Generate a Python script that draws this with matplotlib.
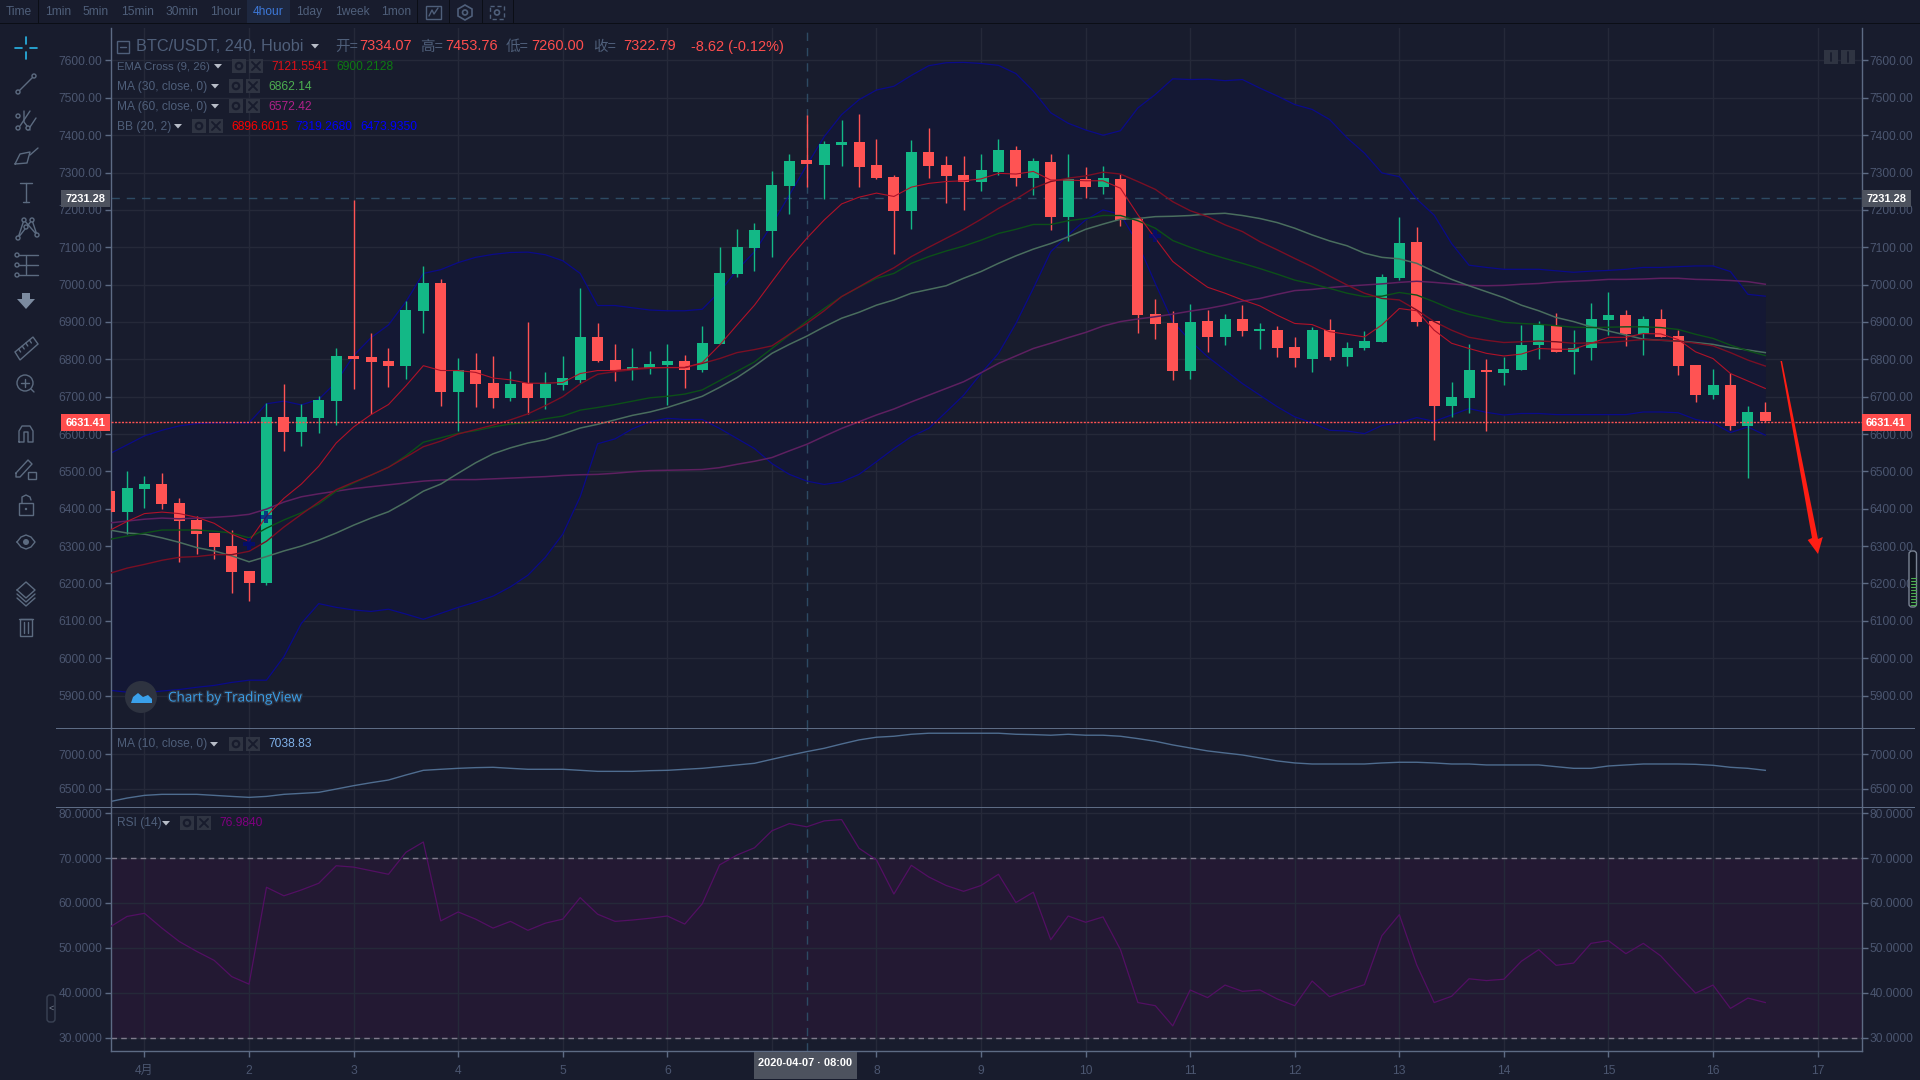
import numpy as np
import matplotlib
matplotlib.use('Agg')
import matplotlib.pyplot as plt
from matplotlib.patches import Rectangle, Circle, FancyBboxPatch, Polygon
import matplotlib.patheffects as pe

plt.rcParams['font.family'] = ['Liberation Sans', 'Noto Sans CJK SC', 'DejaVu Sans']

# DATOS: velas de 4 horas BTC/USDT, desde la vela k=-2 hasta k=93 (6 por dia)
open_ = [6447, 6391, 6454, 6466, 6415, 6369, 6335, 6300, 6232, 6202, 6645, 6605, 6643, 6688, 6808, 6806,
         6795, 6782, 6929, 7005, 6712, 6771, 6737, 6697, 6737, 6697, 6731, 6744, 6859, 6798, 6771, 6777,
         6785, 6796, 6771, 6841, 7029, 7098, 7144, 7264, 7334.07, 7321, 7374, 7382, 7321, 7288, 7197, 7355,
         7321, 7294, 7275, 7302, 7361, 7286, 7329, 7181, 7283, 7262, 7283, 7176, 6921, 6897, 6769, 6903,
         6860, 6908, 6876, 6879, 6833, 6801, 6879, 6807, 6829, 6847, 7018, 7114, 6903, 6675, 6697, 6772,
         6764, 6772, 6838, 6890, 6820, 6829, 6906, 6919, 6868, 6908, 6863, 6785, 6704, 6731, 6622, 6659]
high = [6447, 6502, 6487, 6497, 6429, 6380, 6335, 6342, 6232, 6683, 6734, 6680, 6701, 6831, 7226, 6871,
        6831, 6956, 7050, 7015, 6804, 6817, 6808, 6768, 6901, 6765, 6808, 6992, 6897, 6841, 6831, 6822,
        6841, 6812, 6889, 7101, 7149, 7165, 7305, 7350, 7453.76, 7385, 7441, 7457, 7390, 7294, 7387, 7420,
        7345, 7345, 7350, 7390, 7371, 7339, 7350, 7350, 7315, 7318, 7296, 7176, 6962, 6929, 6948, 6932,
        6921, 6945, 6897, 6889, 6860, 6887, 6908, 6847, 6876, 7029, 7180, 7154, 6903, 6739, 6841, 6801,
        6807, 6893, 6903, 6925, 6879, 6951, 6980, 6932, 6916, 6935, 6879, 6785, 6774, 6763, 6675, 6686]
low = [6391, 6333, 6403, 6399, 6258, 6280, 6265, 6174, 6153, 6196, 6554, 6567, 6603, 6625, 6720, 6653,
       6725, 6747, 6871, 6675, 6607, 6672, 6670, 6688, 6653, 6667, 6718, 6737, 6792, 6742, 6744, 6761,
       6678, 6723, 6766, 6841, 7021, 7037, 7074, 7189, 7260, 7229, 7318, 7262, 7283, 7082, 7149, 7286,
       7219, 7200, 7251, 7294, 7264, 7240, 7146, 7117, 7232, 7243, 7157, 6871, 6854, 6745, 6747, 6820,
       6839, 6862, 6827, 6806, 6779, 6765, 6799, 6783, 6826, 6847, 7013, 6889, 6584, 6645, 6657, 6609,
       6732, 6772, 6801, 6820, 6761, 6799, 6865, 6836, 6811, 6860, 6758, 6685, 6694, 6611, 6483, 6632]
close = [6391, 6456, 6466, 6413, 6367, 6333, 6298, 6230, 6202, 6645, 6605, 6645, 6691, 6808, 6801, 6792,
         6782, 6932, 7005, 6712, 6771, 6734, 6697, 6734, 6697, 6734, 6750, 6859, 6795, 6771, 6779, 6788,
         6796, 6771, 6844, 7031, 7101, 7146, 7267, 7331, 7322.79, 7377, 7382, 7315, 7286, 7197, 7355, 7318,
         7291, 7276, 7307, 7361, 7286, 7331, 7181, 7283, 7262, 7286, 7173, 6919, 6895, 6769, 6900, 6860,
         6908, 6876, 6881, 6831, 6804, 6879, 6807, 6831, 6850, 7021, 7111, 6900, 6675, 6699, 6772, 6766,
         6775, 6839, 6893, 6820, 6831, 6908, 6919, 6868, 6908, 6860, 6782, 6704, 6731, 6622, 6659, 6635]

ema9 = [6342, 6366, 6387, 6391, 6387, 6377, 6361, 6332, 6313, 6380, 6428, 6466, 6514, 6576, 6619, 6652,
        6679, 6729, 6783, 6770, 6770, 6765, 6750, 6745, 6736, 6736, 6738, 6762, 6770, 6770, 6775, 6778,
        6778, 6778, 6791, 6838, 6892, 6945, 7008, 7070, 7124, 7173, 7216, 7234, 7245, 7236, 7261, 7271,
        7276, 7278, 7283, 7298, 7296, 7303, 7280, 7280, 7278, 7278, 7258, 7187, 7124, 7062, 7026, 6993,
        6977, 6959, 6943, 6918, 6896, 6893, 6874, 6867, 6860, 6892, 6936, 6930, 6878, 6843, 6829, 6816,
        6809, 6814, 6829, 6827, 6827, 6843, 6859, 6859, 6869, 6868, 6853, 6820, 6802, 6762, 6742, 6722]
ema26 = [6318, 6327, 6335, 6343, 6343, 6343, 6340, 6335, 6322, 6348, 6370, 6389, 6413, 6447, 6469, 6490,
         6511, 6542, 6578, 6590, 6602, 6609, 6619, 6627, 6631, 6641, 6648, 6664, 6671, 6679, 6688, 6697,
         6701, 6707, 6718, 6743, 6768, 6793, 6829, 6865, 6902, 6936, 6968, 6993, 7017, 7030, 7057, 7075,
         7090, 7103, 7119, 7137, 7148, 7161, 7161, 7171, 7177, 7185, 7185, 7171, 7151, 7118, 7100, 7084,
         7070, 7057, 7043, 7028, 7012, 7002, 6990, 6977, 6968, 6969, 6979, 6972, 6954, 6934, 6920, 6910,
         6899, 6896, 6894, 6890, 6886, 6885, 6886, 6887, 6887, 6885, 6880, 6867, 6856, 6838, 6823, 6810]
ma30 = [6343, 6335, 6332, 6322, 6310, 6296, 6287, 6274, 6258, 6272, 6287, 6300, 6316, 6335, 6356, 6375,
        6392, 6418, 6447, 6466, 6495, 6523, 6547, 6563, 6576, 6585, 6600, 6616, 6626, 6638, 6650, 6659,
        6671, 6686, 6701, 6725, 6751, 6782, 6816, 6840, 6862, 6887, 6910, 6926, 6945, 6959, 6977, 6987,
        6997, 7017, 7035, 7057, 7077, 7095, 7110, 7128, 7148, 7162, 7175, 7177, 7182, 7183, 7185, 7189,
        7191, 7185, 7177, 7166, 7151, 7133, 7117, 7104, 7084, 7073, 7069, 7057, 7035, 7014, 6997, 6981,
        6965, 6945, 6930, 6912, 6901, 6887, 6876, 6865, 6854, 6851, 6849, 6845, 6840, 6831, 6825, 6818]
ma60 = [6362, 6367, 6372, 6375, 6373, 6375, 6377, 6380, 6385, 6399, 6418, 6432, 6440, 6447, 6454, 6459,
        6464, 6469, 6474, 6477, 6478, 6478, 6480, 6482, 6484, 6486, 6489, 6491, 6492, 6495, 6499, 6502,
        6503, 6504, 6505, 6510, 6519, 6527, 6537, 6555, 6572.42, 6594, 6615, 6633, 6651, 6667, 6686, 6704,
        6722, 6740, 6764, 6789, 6809, 6829, 6843, 6858, 6872, 6889, 6901, 6908, 6914, 6921, 6929, 6936,
        6945, 6956, 6963, 6974, 6984, 6987, 6992, 6996, 6999, 7002, 7006, 7009, 7006, 7002, 6998, 6997,
        6998, 7001, 7003, 7007, 7009, 7011, 7014, 7014, 7015, 7017, 7017, 7014, 7013, 7011, 7008, 7001]
bb_basis = [6227, 6241, 6251, 6262, 6270, 6272, 6277, 6277, 6286, 6313, 6351, 6385, 6418, 6451, 6471, 6490,
            6511, 6538, 6566, 6581, 6600, 6612, 6624, 6638, 6654, 6676, 6700, 6734, 6760, 6767, 6772, 6776,
            6778, 6778, 6789, 6802, 6818, 6826, 6836, 6867, 6896, 6930, 6968, 6994, 7021, 7045, 7075, 7100,
            7124, 7148, 7175, 7204, 7229, 7258, 7276, 7285, 7291, 7301, 7296, 7276, 7255, 7222, 7198, 7182,
            7160, 7142, 7115, 7093, 7070, 7048, 7023, 6999, 6977, 6963, 6959, 6932, 6901, 6878, 6859, 6851,
            6845, 6847, 6849, 6847, 6843, 6844, 6845, 6849, 6853, 6851, 6849, 6843, 6836, 6818, 6798, 6782]
bb_upper = [6547, 6571, 6595, 6610, 6622, 6628, 6630, 6630, 6630, 6681, 6688, 6678, 6693, 6739, 6810, 6858,
            6892, 6954, 7030, 7040, 7059, 7073, 7081, 7086, 7087, 7080, 7064, 7030, 6944, 6944, 6938, 6932,
            6930, 6930, 6934, 6981, 7039, 7088, 7160, 7240, 7319, 7396, 7455, 7495, 7521, 7531, 7560, 7586,
            7594, 7595, 7592, 7587, 7565, 7518, 7460, 7432, 7414, 7400, 7412, 7473, 7509, 7551, 7549, 7550,
            7546, 7549, 7526, 7505, 7482, 7469, 7442, 7393, 7352, 7299, 7289, 7229, 7186, 7110, 7052, 7046,
            7041, 7041, 7041, 7037, 7033, 7036, 7038, 7041, 7046, 7046, 7048, 7050, 7050, 7035, 6974, 6969]
bb_lower = [5914, 5909, 5907, 5912, 5916, 5922, 5927, 5935, 5941, 5941, 6004, 6093, 6146, 6136, 6129, 6125,
            6131, 6118, 6104, 6120, 6136, 6150, 6166, 6191, 6222, 6270, 6332, 6432, 6574, 6587, 6614, 6633,
            6642, 6639, 6639, 6615, 6588, 6561, 6521, 6492, 6474, 6465, 6472, 6492, 6526, 6561, 6593, 6615,
            6659, 6704, 6762, 6816, 6896, 6990, 7088, 7133, 7173, 7200, 7188, 7110, 7003, 6901, 6850, 6807,
            6771, 6735, 6704, 6673, 6646, 6630, 6610, 6608, 6601, 6623, 6630, 6644, 6634, 6651, 6668, 6658,
            6651, 6655, 6655, 6652, 6652, 6652, 6652, 6652, 6659, 6659, 6657, 6639, 6630, 6604, 6619, 6597]
ma10 = [6311, 6364, 6403, 6418, 6418, 6418, 6403, 6388, 6374, 6388, 6418, 6432, 6447, 6495, 6544, 6587,
        6626, 6699, 6767, 6782, 6796, 6806, 6811, 6796, 6782, 6782, 6782, 6767, 6752, 6752, 6752, 6762,
        6767, 6782, 6796, 6820, 6845, 6869, 6927, 6985, 7038.83, 7087, 7150, 7209, 7248, 7262, 7291, 7306,
        7306, 7306, 7306, 7306, 7291, 7286, 7277, 7291, 7277, 7277, 7262, 7228, 7189, 7136, 7092, 7049,
        7019, 6990, 6947, 6903, 6874, 6859, 6859, 6859, 6859, 6874, 6884, 6884, 6874, 6859, 6859, 6845,
        6845, 6845, 6845, 6820, 6796, 6796, 6830, 6845, 6859, 6859, 6859, 6854, 6840, 6811, 6796, 6767]
rsi = [54.6, 57.0, 57.7, 54.4, 51.4, 49.2, 47.2, 43.6, 41.9, 63.5, 61.6, 62.9, 64.4, 68.3, 68.0, 67.2,
       66.4, 71.3, 73.6, 56.0, 58.0, 56.4, 54.4, 55.9, 53.9, 55.5, 56.4, 61.2, 57.5, 55.9, 56.2, 56.6,
       57.1, 55.3, 59.8, 68.5, 70.7, 72.3, 76.1, 77.7, 76.98, 78.3, 78.6, 72.2, 69.6, 62.0, 68.4, 65.8,
       63.9, 62.6, 63.9, 66.4, 60.1, 62.4, 51.8, 57.1, 55.7, 56.9, 49.6, 37.8, 37.1, 32.6, 40.6, 38.9,
       41.7, 40.3, 40.6, 38.6, 37.1, 42.6, 39.1, 40.5, 41.8, 52.7, 57.4, 46.2, 37.8, 39.2, 43.1, 42.7,
       43.0, 47.0, 49.6, 46.1, 46.6, 51.0, 51.6, 48.7, 51.0, 48.2, 44.0, 39.9, 41.7, 36.5, 38.8, 37.8]

# cruces de EMA (dia, precio)
cross_days = [2.0, 2.1667, 10.6667]
cross_prices = [6305, 6378, 7130]

price_ticks = list(range(5900, 7601, 100))
ma_ticks = [6500, 7000]
rsi_ticks = [30, 40, 50, 60, 70, 80]
day_ticks = list(range(1, 18))
day_labels = ['4月'] + [str(d) for d in day_ticks[1:]]
last_price = 6631.41
cursor_price = 7231.28
cursor_day = 7 + 8 / 24

# COLORES
BG = '#181c2d'
GRID = '#252939'
AXIS = '#5d6b84'
LABEL = '#4b5670'
TXT = '#4f5f7a'
UP = '#13b886'
DOWN = '#ff5353'
CURSOR = '#2d4a63'
TAG = '#4d525e'
PX = 0.72  # de pixeles a puntos con dpi=100

x = (np.arange(len(close)) - 2) / 6 + 1
o, h, l, c = map(np.array, (open_, high, low, close))

fig = plt.figure(figsize=(19.2, 10.8), dpi=100, facecolor=BG)


def make_pane(top, bottom, ylim, ticks, fmt):
    ax = fig.add_axes([110.5 / 1920, 1 - bottom / 1080, 1751 / 1920, (bottom - top) / 1080], facecolor=BG)
    ax.set_xlim(0.675, 17.42)
    ax.set_ylim(*ylim)
    ax.set_yticks(ticks)
    ax.set_yticklabels([fmt % t for t in ticks])
    ax.set_xticks(day_ticks)
    ax.tick_params(axis='y', left=True, right=True, labelleft=True, labelright=True, length=4, width=1,
                   color=AXIS, labelcolor=LABEL, labelsize=12 * PX, pad=2)
    ax.tick_params(axis='x', bottom=False, labelbottom=False)
    ax.grid(True, color=GRID, linewidth=1)
    ax.set_axisbelow(True)
    for name, sp in ax.spines.items():
        sp.set_visible(name in ('left', 'right'))
        sp.set_color(AXIS)
        sp.set_linewidth(1)
    ax.axvline(cursor_day, color=CURSOR, linewidth=1, dashes=(6, 5), zorder=1.5)
    return ax


# PANEL DE PRECIO
ax = make_pane(28, 728, (5813, 7687), price_ticks, '%.2f')
ax.fill_between(x, bb_lower, bb_upper, color='#141834', linewidth=0, zorder=1)
ax.plot(x, bb_upper, color='#0a0a8a', linewidth=0.9, zorder=2)
ax.plot(x, bb_lower, color='#0a0a8a', linewidth=0.9, zorder=2)

up = c >= o
ax.vlines(x[up], l[up], h[up], color=UP, linewidth=1.0, zorder=3)
ax.vlines(x[~up], l[~up], h[~up], color=DOWN, linewidth=1.0, zorder=3)
ax.bar(x, np.abs(c - o), bottom=np.minimum(o, c), width=11 / 104.6, color=np.where(up, UP, DOWN), linewidth=0, zorder=3)

ax.plot(x, ma60, color='#5e2060', linewidth=1.1, zorder=4)
ax.plot(x, ma30, color='#4a6e5e', linewidth=1.1, zorder=4)
ax.plot(x, ema26, color='#0c5018', linewidth=1.0, zorder=4)
ax.plot(x, bb_basis, color='#7a0f24', linewidth=1.0, zorder=4)
ax.plot(x, ema9, color='#b01228', linewidth=0.8, zorder=4)
ax.plot(cross_days, cross_prices, linestyle='none', marker='P', markersize=8.5, color='#000a80', alpha=0.7,
        markeredgewidth=0, zorder=5)

ax.axhline(cursor_price, color=CURSOR, linewidth=1, dashes=(6, 5), zorder=1.8)
ax.axhline(last_price, color=DOWN, linewidth=1.0, dashes=(1.5, 1), zorder=6)

# PANEL MA
ax2 = make_pane(728, 807, (6234, 7382), ma_ticks, '%.2f')
ax2.plot(x, ma10, color='#4f6d90', linewidth=1.0)

# PANEL RSI
ax3 = make_pane(807, 1051, (27.0, 81.4), rsi_ticks, '%.4f')
ax3.axhspan(30, 70, color='#231933', linewidth=0, zorder=0.5)
ax3.axhline(70, color='#7f7a8c', linewidth=1, dashes=(4, 3), zorder=2)
ax3.axhline(30, color='#7f7a8c', linewidth=1, dashes=(4, 3), zorder=2)
ax3.plot(x, rsi, color='#530f63', linewidth=0.9, zorder=3)
ax3.spines['bottom'].set_visible(True)
ax3.spines['bottom'].set_color(AXIS)
ax3.tick_params(axis='x', bottom=True, labelbottom=True, length=4, width=1, color=AXIS, labelcolor=LABEL,
                labelsize=12 * PX, pad=6)
ax3.set_xticklabels(day_labels)

# CAPA DE INTERFAZ en pixeles
ui = fig.add_axes([0, 0, 1, 1], facecolor='none', zorder=10)
ui.set_xlim(0, 1920)
ui.set_ylim(1080, 0)
ui.axis('off')


def label(px, py, s, color=TXT, size=12, ha='left', weight='normal'):
    return ui.text(px, py, s, color=color, fontsize=size * PX, ha=ha, va='center', fontweight=weight)


def box(x0, y0, w, h_, color, z=1):
    ui.add_patch(Rectangle((x0, y0), w, h_, facecolor=color, edgecolor='none', zorder=z))


def line(pts, color='#5c6b80', lw=1.0, closed=False):
    xs, ys = zip(*(list(pts) + ([pts[0]] if closed else [])))
    ui.plot(xs, ys, color=color, linewidth=lw, solid_capstyle='round')


def caret(px, py):
    ui.add_patch(Polygon([(px - 4, py - 2), (px + 4, py - 2), (px, py + 2.5)], facecolor='#b8bdc8', edgecolor='none'))


def gear_x(px, py):
    # botones de ajustes y cerrar de cada indicador
    box(px, py - 7, 14, 14, '#2f3442')
    ui.add_patch(Circle((px + 7, py), 3.2, facecolor='none', edgecolor='#181c2d', linewidth=1.6, zorder=2))
    box(px + 17, py - 7, 14, 14, '#2f3442')
    line([(px + 20, py - 4), (px + 28, py + 4)], '#181c2d', 1.4)
    line([(px + 20, py + 4), (px + 28, py - 4)], '#181c2d', 1.4)


# barra superior
box(0, 23, 1920, 1.2, '#0b0e16')
box(247, 0, 43, 23, '#1e2840')
toolbar = [('Time', 19), ('1min', 58), ('5min', 96), ('15min', 138), ('30min', 182), ('1hour', 226),
           ('4hour', 268), ('1day', 309), ('1week', 352), ('1mon', 396)]
for name, px in toolbar:
    label(px, 12, name, '#3d78d8' if name == '4hour' else TXT, 12, ha='center')
for px in (38, 417, 449, 482, 513):
    box(px, 0, 1, 23, '#0b0e16')
ui.add_patch(Rectangle((426, 6), 15, 13, facecolor='none', edgecolor=TXT, linewidth=1))
line([(429, 16), (432, 10), (434, 14), (438, 8)], TXT)
ui.add_patch(Polygon([(465, 5), (472, 9), (472, 16), (465, 20), (458, 16), (458, 9)], facecolor='none', edgecolor=TXT, linewidth=1.2))
ui.add_patch(Circle((465, 12.5), 2.5, facecolor='none', edgecolor=TXT, linewidth=1.2))
ui.add_patch(Rectangle((490, 6), 14, 13, facecolor='none', edgecolor=TXT, linewidth=1, linestyle=(0, (3, 2))))
ui.add_patch(Circle((497, 12.5), 2.5, facecolor='none', edgecolor=TXT, linewidth=1.2))

# iconos de la izquierda
line([(26, 37), (26, 44)], '#29b6e8', 1.2)
line([(26, 52), (26, 59)], '#29b6e8', 1.2)
line([(15, 48), (22, 48)], '#29b6e8', 1.2)
line([(30, 48), (37, 48)], '#29b6e8', 1.2)
line([(18, 92), (34, 76)])
for p in ((18, 92), (34, 76)):
    ui.add_patch(Circle(p, 2, facecolor=BG, edgecolor='#5c6b80', linewidth=1, zorder=3))
line([(24, 111), (24, 122), (30, 130)])
line([(30, 111), (20, 126)])
line([(36, 118), (28, 130)])
for p in ((18, 116), (18, 128), (28, 128)):
    ui.add_patch(Circle(p, 2, facecolor=BG, edgecolor='#5c6b80', linewidth=1, zorder=3))
line([(15, 164), (20, 154), (30, 152), (27, 163)], closed=True)
line([(30, 155), (38, 148)])
line([(20, 183), (32, 183)])
line([(26, 183), (26, 202)])
line([(23, 202), (29, 202)])
line([(18, 238), (24, 220), (37, 235), (32, 220), (18, 238)])
for p in ((18, 238), (24, 220), (37, 235), (32, 220), (26, 227)):
    ui.add_patch(Circle(p, 2, facecolor=BG, edgecolor='#5c6b80', linewidth=1, zorder=3))
for py in (255, 265, 275):
    line([(18, py), (38, py)])
    ui.add_patch(Circle((17, py), 2, facecolor=BG, edgecolor='#5c6b80', linewidth=1, zorder=3))
line([(26, 256), (26, 274)])
ui.add_patch(Polygon([(22, 293), (30, 293), (30, 299), (35, 299), (26, 309), (17, 299), (22, 299)], facecolor='#7c8ba0', edgecolor='none'))
ui.add_patch(Polygon([(15, 352), (33, 337), (38, 344), (20, 360)], facecolor='none', edgecolor='#5c6b80', linewidth=1))
for t in (0.2, 0.4, 0.6, 0.8):
    line([(15 + 18 * t, 352 - 15 * t), (17 + 18 * t, 355 - 15 * t)])
ui.add_patch(Circle((25, 383), 8, facecolor='none', edgecolor='#5c6b80', linewidth=1))
line([(31, 389), (34, 392)])
line([(21, 383), (29, 383)])
line([(25, 379), (25, 387)])
line([(19, 442), (19, 431), (22, 426), (30, 426), (33, 431), (33, 442), (28, 442), (28, 432), (24, 432), (24, 442)], closed=True)
line([(16, 473), (28, 460), (32, 464), (20, 477), (16, 477)], closed=True)
ui.add_patch(Rectangle((28, 472), 8, 7, facecolor='none', edgecolor='#5c6b80', linewidth=1))
ui.add_patch(Rectangle((19, 503), 14, 12, facecolor='none', edgecolor='#5c6b80', linewidth=1))
line([(22, 503), (22, 497), (26, 495), (30, 497), (31, 500)])
ui.add_patch(Circle((26, 509), 1.2, facecolor='#5c6b80', edgecolor='none'))
eye_top = [(17, 542), (21, 537), (26, 535), (31, 537), (35, 542)]
eye_bot = [(35, 542), (31, 547), (26, 549), (21, 547), (17, 542)]
line(eye_top + eye_bot)
ui.add_patch(Circle((26, 542), 3, facecolor='#5c6b80', edgecolor='none'))
line([(17, 590), (26, 582), (35, 590), (26, 598)], closed=True)
line([(17, 594), (26, 602), (35, 594)])
line([(17, 598), (26, 606), (35, 598)])
ui.add_patch(Rectangle((20, 619), 12, 17, facecolor='none', edgecolor='#5c6b80', linewidth=1))
line([(19, 619), (33, 619)])
line([(24, 622), (24, 633)])
line([(28, 622), (28, 633)])

# leyenda superior
ui.add_patch(Rectangle((117, 41), 12, 12, facecolor='none', edgecolor=TXT, linewidth=1))
line([(120, 47), (126, 47)], TXT)
label(136, 46.5, 'BTC/USDT, 240, Huobi', TXT, 16.3)
caret(315, 46)
RED = '#ff4d4d'
for lab, px, val, vx in (('开=', 335, '7334.07', 359), ('高=', 420, '7453.76', 445),
                         ('低=', 506, '7260.00', 531), ('收=', 593, '7322.79', 623)):
    label(px, 46.5, lab, TXT, 14.5)
    label(vx, 46.5, val, RED, 14.5)
label(691, 46.5, '-8.62 (-0.12%)', RED, 14.5)

label(117, 67, 'EMA Cross (9, 26)', TXT, 11.4)
caret(218, 66)
gear_x(232, 66)
label(271, 67, '7121.5541', '#e01018')
label(336, 67, '6900.2128', '#0d7a12')
label(117, 87, 'MA (30, close, 0)', TXT)
caret(215, 86)
gear_x(229, 86)
label(268, 87, '6862.14', '#4caf50')
label(117, 107, 'MA (60, close, 0)', TXT)
caret(215, 106)
gear_x(229, 106)
label(268, 107, '6572.42', '#b0208a')
label(117, 127, 'BB (20, 2)', TXT)
caret(178, 126)
gear_x(192, 126)
label(231, 127, '6896.6015', '#ff0000')
label(295.5, 127, '7319.2680', '#0000ff')
label(360, 127, '6473.9350', '#0000ff')

label(117, 744, 'MA (10, close, 0)', TXT)
caret(214, 744)
gear_x(229, 744)
label(268, 744, '7038.83', '#7fb0e8')
label(117, 823, 'RSI (14)', TXT)
caret(166, 823)
gear_x(180, 823)
label(219, 823, '76.9840', '#800080')

# botones arriba a la derecha
box(1824, 50, 14, 14, '#2f3442')
box(1841, 50, 14, 14, '#2f3442')
line([(1831, 53), (1831, 61)], '#181c2d', 1.3)
line([(1848, 52), (1848, 62)], '#181c2d', 1.3)

# separadores de paneles
box(56, 727.5, 1859, 1.2, AXIS, 5)
box(56, 806.5, 1859, 1.2, AXIS, 5)

# etiquetas de precio
for px in (61, 1861.5):
    box(px, 190, 49, 17, TAG, 6)
    ui.text(px + 24.5, 198.5, '7231.28', color='white', fontsize=11 * PX, fontweight='bold', ha='center', va='center', zorder=7)
    box(px, 414, 49, 17, RED, 6)
    ui.text(px + 24.5, 422.5, '6631.41', color='white', fontsize=11 * PX, fontweight='bold', ha='center', va='center', zorder=7)

# etiqueta de fecha del cursor
box(754, 1051.5, 103, 27, TAG, 6)
ui.text(805.5, 1063, '2020-04-07 · 08:00', color='white', fontsize=11 * PX, fontweight='bold', ha='center', va='center', zorder=7)

# marca de TradingView
ui.add_patch(Circle((141, 697), 16, facecolor='#2e3340', edgecolor='none'))
ui.add_patch(Polygon([(131, 703), (133, 697), (138, 693), (143, 697), (148, 695), (152, 699), (152, 703)], facecolor='#3aa0ea', edgecolor='none', zorder=3))
wm = ui.text(168, 698, 'Chart by TradingView', color='#3aa0ea', fontsize=13.5 * PX, family='Open Sans', va='center')
wm.set_path_effects([pe.withStroke(linewidth=2, foreground='#2a3040')])

# flecha roja dibujada a mano
ui.add_patch(Polygon([(1780.5, 361), (1782, 361), (1818, 539), (1822.8, 537), (1818, 554), (1807.7, 540), (1812, 538)],
                     facecolor='#ff1e14', edgecolor='none', zorder=8))

# indicador de volumen en el borde derecho
ui.add_patch(FancyBboxPatch((1909, 551), 7.5, 56, boxstyle='round,pad=0,rounding_size=3', facecolor='#101420', edgecolor='#7a8494', linewidth=1))
for py in range(578, 606, 3):
    line([(1910.5, py), (1915.5, py)], '#4caf50', 0.8)

# pestana para plegar
ui.add_patch(FancyBboxPatch((47, 995), 8, 27, boxstyle='round,pad=0,rounding_size=3', facecolor='none', edgecolor='#3a4254', linewidth=1))
label(51, 1008.5, '<', '#7a8494', 9, ha='center')

fig.savefig('out.png', dpi=100, facecolor=BG)
